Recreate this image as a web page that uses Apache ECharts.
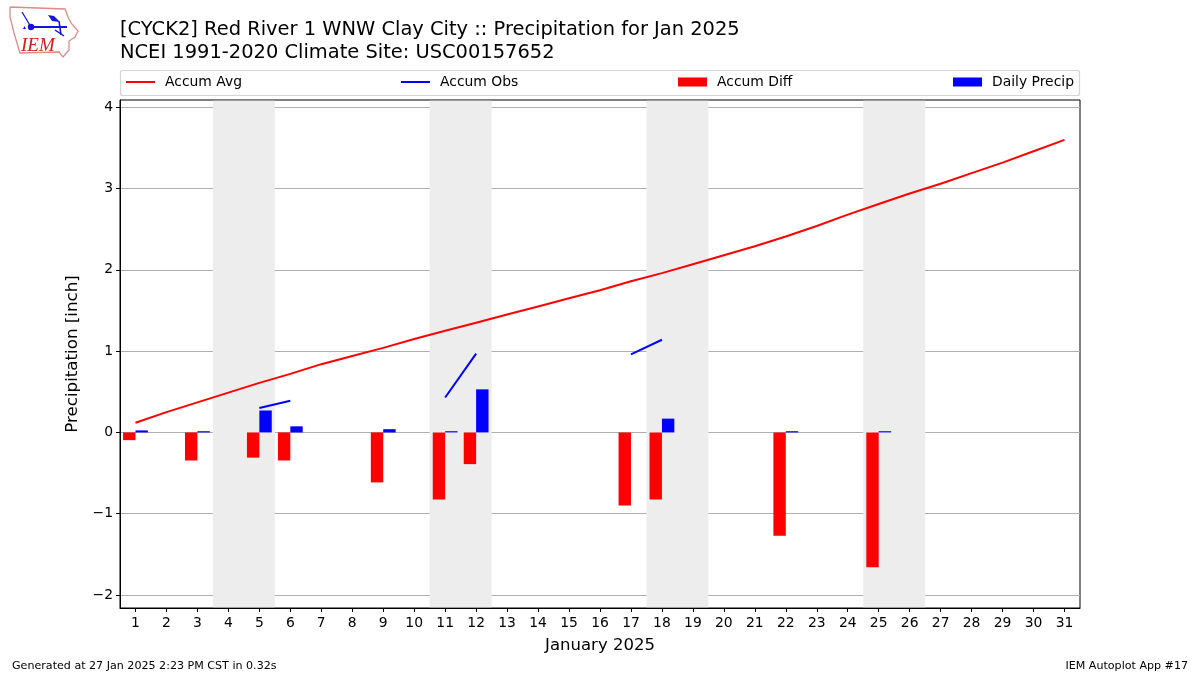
<!DOCTYPE html>
<html><head><meta charset="utf-8">
<style>html,body{margin:0;padding:0;background:#fff}#c{width:1200px;height:675px}</style>
<script src="https://cdn.jsdelivr.net/npm/echarts@6/dist/echarts.min.js"></script>
</head><body><div id="c"></div>
<script>
const days = Array.from({length:31},(_, i)=>String(i+1));
const accumAvg = [0.12,0.25,0.37,0.49,0.61,0.72,0.84,0.94,1.04,1.15,1.25,1.35,1.45,1.55,1.65,1.75,1.86,1.96,2.07,2.18,2.29,2.41,2.54,2.68,2.81,2.94,3.06,3.19,3.32,3.46,3.60];
const accumObs = [null,null,null,null,0.30,0.39,null,null,null,null,0.43,0.97,null,null,null,null,0.96,1.14,null,null,null,null,null,null,null,null,null,null,null,null,null];
const accumDiff = [-0.095,null,-0.345,null,-0.31,-0.345,null,null,-0.615,null,-0.825,-0.39,null,null,null,null,-0.90,-0.825,null,null,null,-1.27,null,null,-1.66,null,null,null,null,null,null];
const dailyPrecip = [0.025,null,0.015,null,0.27,0.075,null,null,0.04,null,0.015,0.53,null,null,null,null,null,0.17,null,null,null,0.015,null,null,0.015,null,null,null,null,null,null];
const weekends = [[3.5,5.5],[10.5,12.5],[17.5,19.5],[24.5,26.5]];
const yTicks = [-2,-1,0,1,2,3,4];
const yMin = -2.16, yMax = 4.09;
const font = 'DejaVu Sans';
const chart = echarts.init(document.getElementById('c'),null,{renderer:'canvas'});
const legendItem = (name,left,h)=>({show:true,data:[name],left:left,top:75,itemWidth:29,itemHeight:h,icon:'rect',selectedMode:false,padding:0,
  textStyle:{fontFamily:font,fontSize:13.9,color:'#000',padding:[0,0,0,5]}});
const blue='#1515d8';
chart.setOption({
  animation:false,
  textStyle:{fontFamily:font},
  title:{text:'[CYCK2] Red River 1 WNW Clay City :: Precipitation for Jan 2025\nNCEI 1991-2020 Climate Site: USC00157652',
    left:120,top:19,padding:0,textStyle:{fontFamily:font,fontSize:19.45,fontWeight:'normal',color:'#000',lineHeight:22.5}},
  legend:[legendItem('Accum Avg',126,2),legendItem('Accum Obs',401,2),legendItem('Accum Diff',678,9),legendItem('Daily Precip',953,9)],
  grid:{left:120,right:120,top:100,bottom:67,show:true,borderColor:'#000',borderWidth:1,backgroundColor:'transparent',containLabel:false},
  xAxis:[
    {type:'category',data:days,name:'January 2025',nameLocation:'middle',nameGap:29,
     nameTextStyle:{fontFamily:font,fontSize:16.5,color:'#000'},
     axisLine:{show:true,onZero:false,lineStyle:{color:'#000'}},
     axisTick:{show:true,alignWithLabel:true,length:4,lineStyle:{color:'#000'}},
     axisLabel:{fontFamily:font,fontSize:13.9,color:'#000',margin:8,interval:0},
     splitLine:{show:false}},
    {type:'value',min:0.5,max:31.5,show:false,position:'bottom',splitLine:{show:false}}
  ],
  yAxis:{type:'value',min:yMin,max:yMax,name:'Precipitation [inch]',nameLocation:'middle',nameGap:34,
     nameTextStyle:{fontFamily:font,fontSize:16.7,color:'#000'},
     axisLine:{show:true,lineStyle:{color:'#000'}},
     axisTick:{show:true,length:4,lineStyle:{color:'#000'},customValues:yTicks},
     axisLabel:{fontFamily:font,fontSize:13.9,color:'#000',margin:7,customValues:yTicks,formatter:v=>String(v).replace('-','\u2212')},
     splitLine:{show:true,lineStyle:{color:'#b0b0b0',width:1}}},
  graphic:[
    {type:'rect',z:-1,shape:{x:120.5,y:70.5,width:959,height:25,r:2},style:{fill:'#fff',stroke:'#d5d5d5',lineWidth:1.2}},
    {type:'polyline',z:5,shape:{points:[[10,7],[65,9],[68,17],[71,23],[78,31],[75,37],[69,41],[69,50],[63,57],[59,52],[20,53],[14,33],[10,17],[10,7]]},style:{fill:'none',stroke:'#e08a8a',lineWidth:1.3}},
    {type:'text',z:6,style:{x:21,y:36,text:'IEM',fontFamily:'Liberation Serif',fontStyle:'italic',fontSize:19,fill:'#cc2020'}},
    {type:'polyline',z:6,shape:{points:[[31,27],[67,27]]},style:{stroke:blue,lineWidth:2,fill:'none'}},
    {type:'polyline',z:6,shape:{points:[[22,12],[31,27]]},style:{stroke:blue,lineWidth:1.3,fill:'none'}},
    {type:'polyline',z:6,shape:{points:[[59,21],[61,35]]},style:{stroke:blue,lineWidth:1.6,fill:'none'}},
    {type:'polyline',z:6,shape:{points:[[55,30],[64,36]]},style:{stroke:blue,lineWidth:1.5,fill:'none'}},
    {type:'circle',z:6,shape:{cx:31,cy:27,r:3.2},style:{fill:blue}},
    {type:'polygon',z:6,shape:{points:[[48,15],[54,16],[60,22],[52,21]]},style:{fill:blue}},
    {type:'polygon',z:6,shape:{points:[[23,29],[24.5,26],[26,29]]},style:{fill:blue}},
    {type:'text',z:6,style:{x:12,y:661,text:'Generated at 27 Jan 2025 2:23 PM CST in 0.32s',fontFamily:font,fontSize:11.1,fill:'#000'}},
    {type:'text',z:6,style:{x:1188,y:661,text:'IEM Autoplot App #17',align:'right',fontFamily:font,fontSize:11.1,fill:'#000'}}
  ],
  series:[
    {name:'weekend',type:'line',xAxisIndex:1,yAxisIndex:0,data:[],silent:true,z:-1,
     markArea:{silent:true,itemStyle:{color:'#ededed',opacity:1},data:weekends.map(w=>[{xAxis:w[0],yAxis:yMin+0.008},{xAxis:w[1],yAxis:yMax-0.008}])}},
    {name:'Accum Avg',type:'line',data:accumAvg,symbol:'none',lineStyle:{color:'#ff0000',width:2},itemStyle:{color:'#ff0000'},z:4},
    {name:'Accum Obs',type:'line',data:accumObs,symbol:'none',connectNulls:false,lineStyle:{color:'#0000ff',width:2},itemStyle:{color:'#0000ff'},z:4},
    {name:'Accum Diff',type:'bar',data:accumDiff,barWidth:12.4,barGap:0,itemStyle:{color:'#ff0000'},z:3},
    {name:'Daily Precip',type:'bar',data:dailyPrecip,barWidth:12.4,barGap:0,itemStyle:{color:'#0000ff'},z:3}
  ]
});
</script></body></html>
